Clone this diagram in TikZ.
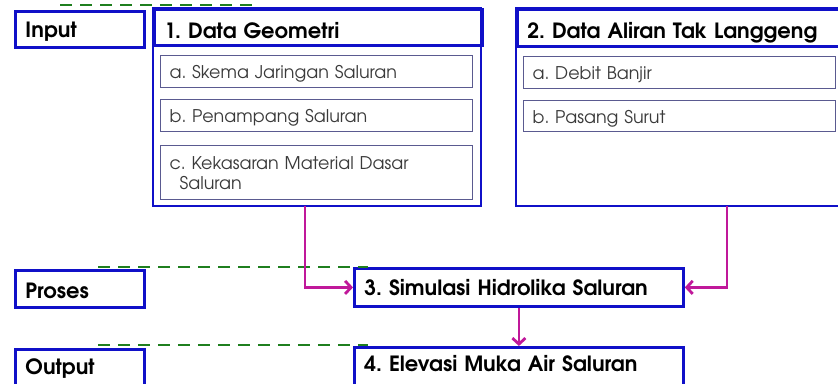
\documentclass[tikz,border=0pt]{standalone}
\usepackage{fontspec}
\setmainfont{TeX Gyre Adventor}
\usetikzlibrary{arrows.meta,calc}
\definecolor{bblue}{HTML}{1010C8}
\definecolor{sblue}{HTML}{5A5A90}
\definecolor{mag}{HTML}{C0189A}
\definecolor{dgreen}{HTML}{1F7F1F}
\definecolor{txt}{HTML}{3A3A3A}
\tikzset{
  bigbox/.style={draw=bblue, line width=2.8pt, fill=white},
  hdrbox/.style={draw=bblue, line width=2.8pt, anchor=north west, inner xsep=10pt, inner ysep=0pt, align=left, font=\fontsize{21}{24}\selectfont\bfseries\frenchspacing},
  subbox/.style={draw=sblue, line width=1.2pt, anchor=north west, inner xsep=9pt, inner ysep=0pt, align=left, text=txt, text height=14pt, text depth=0pt, font=\fontsize{17.5}{20}\selectfont\frenchspacing},
  lblbox/.style={draw=bblue, line width=2.8pt, anchor=north west, inner xsep=10pt, inner ysep=0pt, align=left, font=\fontsize{21}{24}\selectfont\bfseries},
  arr/.style={draw=mag, line width=2.8pt, -{Straight Barb[length=6pt,width=13pt,line width=2.8pt]}},
  sep/.style={draw=dgreen, line width=2.8pt, dash pattern=on 12pt off 8pt}
}
\begin{document}
\begin{tikzpicture}[x=1pt,y=-1pt]
\useasboundingbox (0,0) rectangle (838,383);
% labels
\node[lblbox, minimum width=129pt, minimum height=36pt, text width=109pt, text height=16pt, text depth=0pt] (inp) at (14,10) {Input};
\node[lblbox, minimum width=129pt, minimum height=37pt, text width=109pt, text height=19pt, text depth=0pt] (pro) at (14,269) {Proses};
\node[lblbox, minimum width=129pt, minimum height=42pt, text width=109pt, text height=16pt, text depth=8pt] (out) at (14,348) {Output};
% group 1
\draw[bigbox] (153,8) rectangle (481,206);
\node[hdrbox, minimum width=328pt, minimum height=36pt, text width=308pt, text height=22pt, text depth=0pt] (g1) at (153,8) {1. Data Geometri};
\coordinate (g1b) at (305,206);
\node[subbox, minimum width=312pt, minimum height=32pt, text width=294pt] (g1x) at (160,55) {a. Skema Jaringan Saluran};
\node[subbox, minimum width=312pt, minimum height=32pt, text width=294pt] (g1y) at (160,99) {b. Penampang Saluran};
\node[subbox, minimum width=312pt, minimum height=54pt, text width=294pt, text height=14pt, text depth=20pt] (g1z) at (160,145) {c. Kekasaran Material Dasar\\\hspace*{10pt}Saluran};
% group 2
\draw[bigbox] (516,8) rectangle (840,206);
\node[hdrbox, minimum width=324pt, minimum height=37pt, text width=304pt, text height=22pt, text depth=0pt] (g2) at (516,8) {2. Data Aliran Tak Langgeng};
\coordinate (g2b) at (727,206);
\node[subbox, minimum width=312pt, minimum height=32pt, text width=294pt] (g2x) at (523,56) {a. Debit Banjir};
\node[subbox, minimum width=312pt, minimum height=31pt, text width=294pt] (g2y) at (523,100) {b. Pasang Surut};
% process / output
\node[hdrbox, minimum width=329pt, minimum height=38pt, text width=309pt, text height=16pt, text depth=0pt, fill=white] (s3) at (353,267) {3. Simulasi Hidrolika Saluran};
\node[hdrbox, minimum width=329pt, minimum height=44pt, text width=309pt, text height=16pt, text depth=11pt, fill=white] (s4) at (353,346) {4. Elevasi Muka Air Saluran};
% separators
\coordinate (d1a) at (60,5); \coordinate (d1b) at (258,5);
\coordinate (d2a) at (98,267); \coordinate (d2b) at (368,267);
\coordinate (d3a) at (98,345); \coordinate (d3b) at (368,345);
\draw[sep] (d1a) -- (d1b);
\draw[sep] (d2a) -- (d2b);
\draw[sep] (d3a) -- (d3b);
% arrows
\draw[arr] (g1b) |- (s3.west);
\draw[arr] (g2b) |- (s3.east);
\draw[arr] (s3.south) -- (s4.north);
\end{tikzpicture}
\end{document}
